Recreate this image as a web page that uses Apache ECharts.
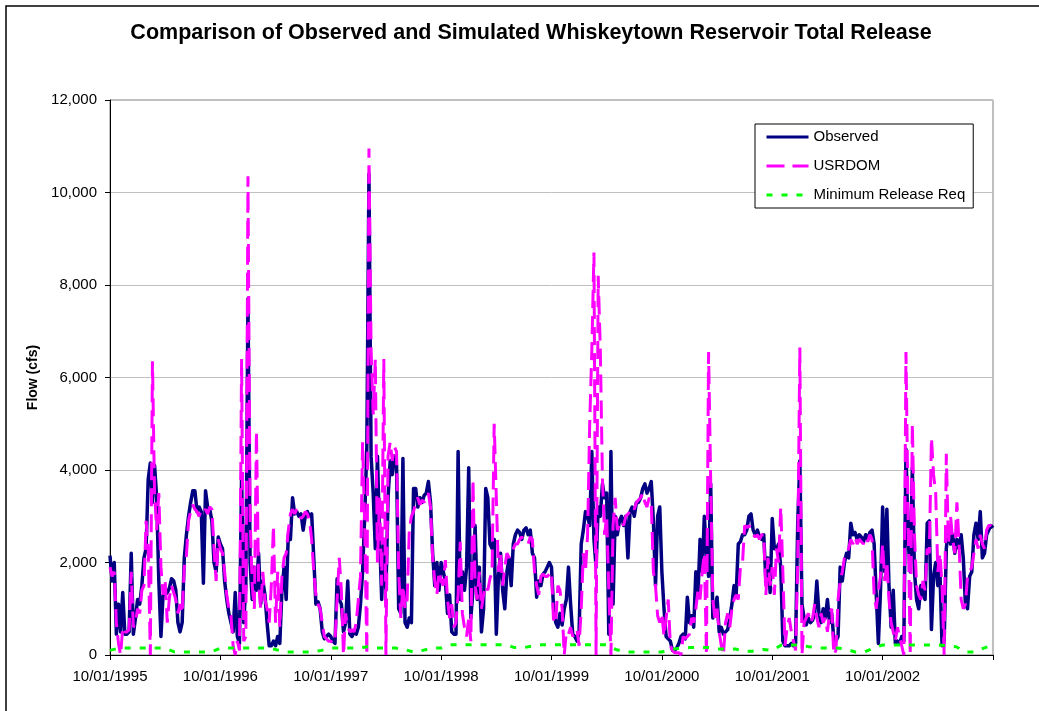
<!DOCTYPE html>
<html>
<head>
<meta charset="utf-8">
<script src="https://cdn.jsdelivr.net/npm/echarts@6/dist/echarts.min.js"></script>
<style>
  html, body { margin: 0; padding: 0; background: #fff; }
  #chart { width: 1039px; height: 711px; }
</style>
</head>
<body>
<div id="chart"></div>
<script>
// Whiskeytown Reservoir total release, water years 1996-2003 (cfs).
// Flow series are weekly readings, 52 per water year starting 10/01; the
// minimum release requirement is monthly, 12 per water year.
const weeksPerYear = 52;
const monthsPerYear = 12;

const xTickLabels = ['10/01/1995', '10/01/1996', '10/01/1997', '10/01/1998',
                     '10/01/1999', '10/01/2000', '10/01/2001', '10/01/2002'];

const seriesNames = ['Observed', 'USRDOM', 'Minimum Release Req'];

const observed = [
  // WY1996
  2150,1600,2000,450,1100,500,1350,450,450,500, 2200,450,800,1200,1100,1500,2100,2300,3800,4150,
  3300,4100,3400,1600,400,1300,1300,1350,1450,1650, 1600,1400,700,500,700,2100,2600,3000,3300,3550,
  3550,3100,3200,3100,1550,3550,3200,3150,2900,2000, 1800,2550,
  // WY1997
  2400,2300,1600,1200,900,700,500,1350,400,250, 3900,700,1500,7700,2000,1200,1900,1400,2200,1100,
  1600,1300,700,200,200,300,200,400,250,1400, 1900,1200,2600,2500,3400,3050,3100,3000,3050,2700,
  3000,3100,3000,3050,2100,1100,1150,1000,500,350, 400,450,
  // WY1998
  400,300,250,1650,1200,1100,500,700,1600,450, 400,500,450,600,1100,1800,3000,4500,10400,4300,
  3500,2300,4300,2600,1200,2500,1400,3400,4200,3900, 4300,4100,1000,900,4250,700,600,800,700,3600,
  3600,3200,3400,3300,3450,3500,3750,3300,2200,1500, 2000,1400,
  // WY1999
  2000,1800,1600,900,1300,500,450,450,4400,1200, 1800,1400,1900,4050,800,1400,2800,1200,1900,500,
  1000,3600,3400,2400,2300,2500,450,1700,2200,1400, 1000,1800,2100,1500,2400,2600,2700,2650,2500,2700,
  2750,2600,2700,2200,2100,1250,1600,1500,1750,1800, 1900,2000,
  // WY2000
  1900,1000,700,600,900,650,1000,1200,1900,1100, 450,400,300,500,2400,2700,3100,3000,2800,4400,
  2500,1900,3200,3000,3700,3400,3500,450,4400,1100, 3000,2600,2900,3000,2800,3000,2100,3100,3200,3000,
  3300,3300,3400,3600,3700,3500,3600,3750,2900,1500, 3000,3200,
  // WY2001
  1800,1000,400,350,300,100,100,150,250,400, 450,350,1250,700,850,600,1800,1300,2500,1800,
  3000,2200,1700,3700,800,1000,1250,500,600,450, 500,550,800,1100,1500,1300,2400,2450,2600,2600,
  2700,3000,3050,2700,2600,2700,2550,2500,2600,1600, 2100,1350,
  // WY2002
  2950,2300,2300,2400,1900,300,200,200,200,250, 200,250,2850,4200,1100,800,650,800,700,750,
  900,1600,900,700,1000,800,1200,700,900,350, 300,400,1900,1600,2000,2200,2100,2850,2600,2650,
  2500,2600,2550,2450,2600,2500,2650,2700,2400,1300, 250,1400,
  // WY2003
  3200,1800,3150,1500,600,1400,250,300,250,400, 300,4450,2500,1800,4050,1800,1200,1000,1500,1300,
  1200,2850,2900,550,1700,2000,1500,1800,200,300, 2300,2800,2400,2600,2200,2500,2300,2600,2100,1100,
  1000,1700,1800,2600,2850,2500,3100,2100,2200,2600, 2700,2800,
  // 10/01/2003
  2750
];

const usrdom = [
  // WY1996
  1900,1700,1800,700,250,0,600,500,500,550, 1800,600,700,1000,900,1400,1500,2900,2300,0,
  6350,3500,2700,3500,1900,1300,1600,700,1250,1500, 1350,1200,900,1100,900,1900,2150,2900,3100,3250,
  3150,3100,3000,3150,3100,3150,3050,3200,3150,2300, 1600,2500,
  // WY1997
  2300,2200,1800,1300,1000,850,200,0,300,100, 6400,300,400,10350,3000,1500,1000,4850,1600,1000,
  1800,1200,1000,700,1500,2800,700,1800,600,1700, 2100,2200,2700,3050,3150,3050,3150,3050,2950,3000,
  3100,3050,2900,2500,1800,1300,1100,1000,700,400, 350,300,
  // WY1998
  300,250,300,1200,2100,1400,0,900,600,500, 550,500,700,1200,1700,4600,2800,0,10950,6600,
  5200,6400,2000,3400,1500,6400,0,4300,4600,4200, 4500,4400,1800,800,1500,1000,1200,2700,3000,3100,
  3300,3400,3250,3350,3300,3400,3500,3200,2100,1600, 1300,1800,
  // WY1999
  1600,1500,2050,1200,800,1100,600,700,1300,2450, 900,600,400,800,300,3800,1500,1200,1800,1000,
  1300,1500,1400,1650,1800,5000,3400,1800,2200,1500, 1900,2200,2100,2200,2300,2400,2400,2500,2550,2500,
  2450,2400,2550,2500,1800,1500,1300,1700,1750,1700, 1700,1750,
  // WY2000
  1800,700,700,1500,1400,1000,0,500,450,600, 400,500,550,200,1000,2200,1800,2600,5000,6600,
  8700,0,8200,6600,3800,2600,3000,1400,0,2800, 3400,2700,2800,2900,2800,3000,3050,3100,3200,3150,
  3300,3350,3400,3500,3300,3200,3400,3300,1800,1500, 850,700,
  // WY2001
  900,400,800,1200,200,100,50,50,50,0, 400,350,400,450,800,700,1000,1400,1200,1800,
  2200,0,6550,3750,1200,800,1000,500,200,0, 700,900,600,1000,1200,1300,1200,1900,2000,2800,
  2750,2800,2700,2600,2550,2600,2500,2600,2600,1300, 2100,1500,
  // WY2002
  1900,1300,2300,2000,3200,1800,200,600,800,500, 300,100,2000,6650,0,700,800,900,700,800,
  1100,800,600,900,700,800,500,900,1000,0, 100,1200,1600,1800,2100,2200,2300,2500,2400,2550,
  2400,2500,2450,2400,2550,2450,2600,2500,1300,1000, 1400,1700,
  // WY2003
  2400,1600,2000,1200,700,500,300,600,400,200, 0,6550,3000,0,5000,2600,1500,1300,1200,1600,
  1400,2300,2200,4700,3900,3500,1800,2200,1500,0, 4350,2400,3000,2500,2200,3300,2400,1200,1000,1100,
  1700,1800,1900,2200,2500,2300,2600,2400,2300,2700, 2800,2800,
  // 10/01/2003
  2750
];

const minRelease = [
  100,150,150,150,150,150,150,65,65,65,65,65,          // WY1996
  150,150,150,150,150,150,120,65,65,65,65,100,         // WY1997
  150,150,150,150,180,150,150,150,120,65,100,150,      // WY1998
  150,220,220,220,220,220,220,220,160,160,200,220,     // WY1999
  220,220,220,220,220,220,220,120,65,65,65,65,         // WY2000
  65,120,150,160,160,160,130,130,130,80,80,120,        // WY2001
  100,216,216,216,180,150,150,150,130,65,65,150,       // WY2002
  216,216,216,216,216,216,216,200,180,65,65,150,       // WY2003
  216
];

// x is measured in water years since 10/01/1995
const toWeekly = arr => arr.map((v, i) => [i / weeksPerYear, v]);
const toMonthly = arr => arr.map((v, i) => [i / monthsPerYear, v]);

const FONT = '"Liberation Sans", Arial, sans-serif';

const chart = echarts.init(document.getElementById('chart'), null, { renderer: 'canvas' });

chart.setOption({
  animation: false,
  backgroundColor: '#ffffff',
  graphic: [
    {
      type: 'rect',
      z: -10,
      shape: { x: 6, y: 6, width: 1200, height: 900 },
      style: { fill: 'none', stroke: '#000000', lineWidth: 1.5 }
    },
    {
      type: 'text',
      x: 531,
      y: 33,
      style: {
        text: 'Comparison of Observed and Simulated Whiskeytown Reservoir Total Release',
        font: 'bold 21.5px ' + FONT,
        fill: '#000000',
        align: 'center',
        verticalAlign: 'middle',
        textAlign: 'center',
        textVerticalAlign: 'middle'
      }
    }
  ],
  legend: {
    data: seriesNames,
    orient: 'vertical',
    left: 755,
    top: 124,
    padding: [5, 8, 5, 10],
    itemGap: 13,
    itemWidth: 42,
    itemHeight: 16,
    borderColor: '#000000',
    borderWidth: 1,
    backgroundColor: '#ffffff',
    // line sample only, no marker
    itemStyle: { opacity: 0 },
    lineStyle: { width: 3 },
    textStyle: { fontFamily: FONT, fontSize: 15, color: '#000000', lineHeight: 16 }
  },
  grid: {
    left: 110,
    right: 46,
    top: 100,
    bottom: 56,
    show: true,
    borderColor: '#808080',
    borderWidth: 1,
    backgroundColor: '#ffffff'
  },
  xAxis: {
    type: 'value',
    min: 0,
    max: 8,
    interval: 1,
    axisLine: { show: true, onZero: false, lineStyle: { color: '#000000', width: 1 } },
    axisTick: { show: true, length: 5, lineStyle: { color: '#000000' } },
    axisLabel: {
      fontFamily: FONT,
      fontSize: 15,
      color: '#000000',
      margin: 14,
      formatter: v => xTickLabels[Math.round(v)] || ''
    },
    splitLine: { show: false }
  },
  yAxis: {
    type: 'value',
    min: 0,
    max: 12000,
    interval: 2000,
    name: 'Flow (cfs)',
    nameLocation: 'middle',
    nameRotate: 90,
    nameGap: 70,
    nameTextStyle: { fontFamily: FONT, fontSize: 14, fontWeight: 'bold', color: '#000000' },
    axisLine: { show: true, lineStyle: { color: '#000000', width: 1 } },
    axisTick: { show: true, length: 5, lineStyle: { color: '#000000' } },
    axisLabel: {
      fontFamily: FONT,
      fontSize: 15,
      color: '#000000',
      margin: 13,
      formatter: v => v.toLocaleString('en-US')
    },
    splitLine: { show: true, lineStyle: { color: '#c0c0c0', width: 1 } }
  },
  series: [
    {
      name: seriesNames[0],
      type: 'line',
      data: toWeekly(observed),
      symbol: 'none',
      showSymbol: false,
      lineStyle: { color: '#000080', width: 3.5, join: 'round' },
      itemStyle: { color: '#000080' },
      z: 2
    },
    {
      name: seriesNames[1],
      type: 'line',
      data: toWeekly(usrdom),
      symbol: 'none',
      showSymbol: false,
      lineStyle: { color: '#ff00ff', width: 3, type: [18, 8] },
      itemStyle: { color: '#ff00ff' },
      z: 3
    },
    {
      name: seriesNames[2],
      type: 'line',
      data: toMonthly(minRelease),
      symbol: 'none',
      showSymbol: false,
      lineStyle: { color: '#00ff00', width: 3, type: [6, 9] },
      itemStyle: { color: '#00ff00' },
      z: 4
    }
  ]
});
</script>
</body>
</html>
